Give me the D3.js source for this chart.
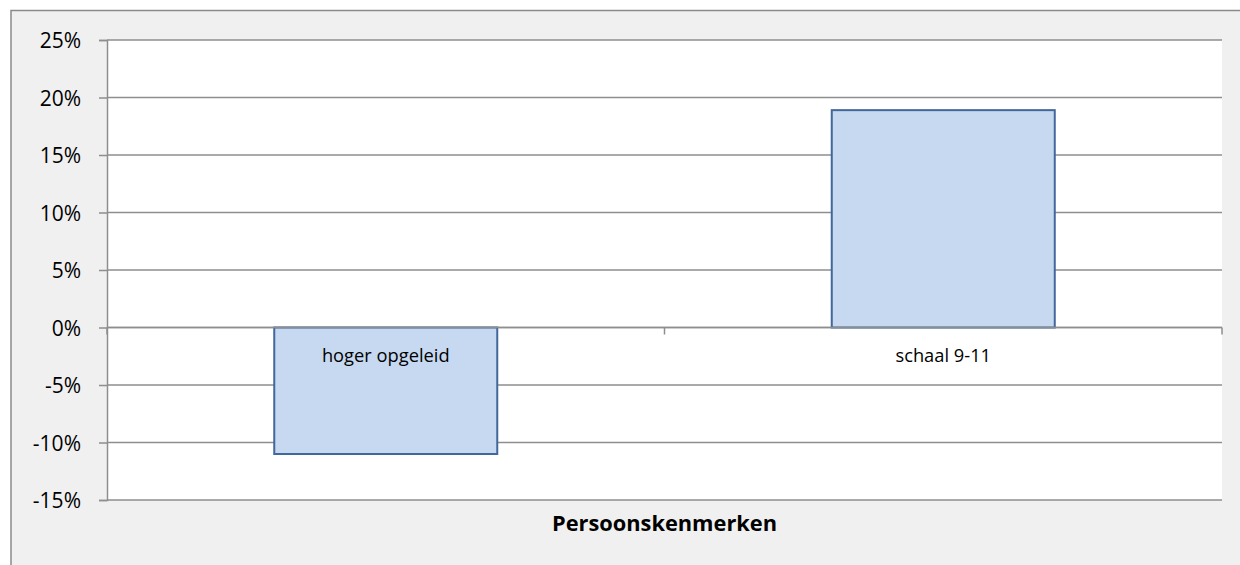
<!DOCTYPE html>
<html>
<head>
<meta charset="utf-8">
<script src="https://cdn.jsdelivr.net/npm/d3@7"></script>
<style>
  html, body { margin: 0; padding: 0; background: #ffffff; overflow: hidden; }
  svg { display: block; }
</style>
</head>
<body>
<svg id="chart" width="1240" height="565"></svg>
<script>
// Data
const categories = ["hoger opgeleid", "schaal 9-11"];
const values = [-0.11, 0.189];
const yTicks = [-0.15, -0.10, -0.05, 0, 0.05, 0.10, 0.15, 0.20, 0.25];
const axisTitle = "Persoonskenmerken";

const svg = d3.select("#chart");
const W = 1240, H = 565;
const plot = { left: 107, right: 1222, top: 40, bottom: 500 };
const gridColor = "#8e8e8e";
const fontFam = "'Open Sans', 'Liberation Sans', sans-serif";

// Outer chart area
svg.append("rect")
  .attr("x", 11).attr("y", 10.5)
  .attr("width", W + 40).attr("height", H + 40)
  .attr("fill", "#f0f0f0")
  .attr("stroke", "#8a8a8a").attr("stroke-width", 1.5);

// Plot area
svg.append("rect")
  .attr("x", plot.left).attr("y", plot.top)
  .attr("width", plot.right - plot.left).attr("height", plot.bottom - plot.top)
  .attr("fill", "#ffffff");

const y = d3.scaleLinear().domain([-0.15, 0.25]).range([plot.bottom, plot.top]);
const x = d3.scaleBand().domain(categories)
  .range([plot.left, plot.right])
  .paddingInner(0.6).paddingOuter(0.3);

// Gridlines
svg.append("g").selectAll("line").data(yTicks).join("line")
  .attr("x1", plot.left).attr("x2", plot.right)
  .attr("y1", d => y(d)).attr("y2", d => y(d))
  .attr("stroke", gridColor).attr("stroke-width", 1.5);

// Y axis
const yAxis = d3.axisLeft(y)
  .tickValues(yTicks)
  .tickSize(8)
  .tickPadding(18)
  .tickFormat(d3.format(".0%"));
const ya = svg.append("g").attr("transform", `translate(${plot.left},0)`).call(yAxis);
ya.select(".domain").attr("stroke", gridColor).attr("stroke-width", 1.5);
ya.selectAll(".tick line").attr("stroke", gridColor).attr("stroke-width", 1.5);
ya.selectAll(".tick text")
  .attr("font-family", fontFam).attr("font-size", 21)
  .attr("fill", "#000").attr("dy", "0.36em")
  .text(d => d3.format(".0%")(d).replace("−", "-"));

// Bars
svg.append("g").selectAll("rect").data(categories).join("rect")
  .attr("x", d => x(d))
  .attr("width", x.bandwidth())
  .attr("y", (d, i) => y(Math.max(0, values[i])))
  .attr("height", (d, i) => Math.abs(y(values[i]) - y(0)))
  .attr("fill", "#c6d9f0")
  .attr("stroke", "#41679c").attr("stroke-width", 2);

// Zero axis line and category ticks
svg.append("line")
  .attr("x1", plot.left).attr("x2", plot.right)
  .attr("y1", y(0)).attr("y2", y(0))
  .attr("stroke", gridColor).attr("stroke-width", 1.5);
const bounds = categories.map(c => x(c) - x.step() * 0.3);
bounds.push(plot.right);
svg.append("g").selectAll("line").data(bounds).join("line")
  .attr("x1", d => d).attr("x2", d => d)
  .attr("y1", y(0)).attr("y2", y(0) + 7)
  .attr("stroke", gridColor).attr("stroke-width", 1.5);

// Category labels
svg.append("g").selectAll("text").data(categories).join("text")
  .attr("x", d => x(d) + x.bandwidth() / 2)
  .attr("y", y(0) + 34)
  .attr("text-anchor", "middle")
  .attr("font-family", fontFam).attr("font-size", 18.3)
  .attr("fill", "#000")
  .text(d => d);

// Axis title
svg.append("text")
  .attr("x", (plot.left + plot.right) / 2)
  .attr("y", 531)
  .attr("text-anchor", "middle")
  .attr("font-family", fontFam).attr("font-size", 21.8)
  .attr("font-weight", "bold")
  .attr("fill", "#000")
  .text(axisTitle);
</script>
</body>
</html>
